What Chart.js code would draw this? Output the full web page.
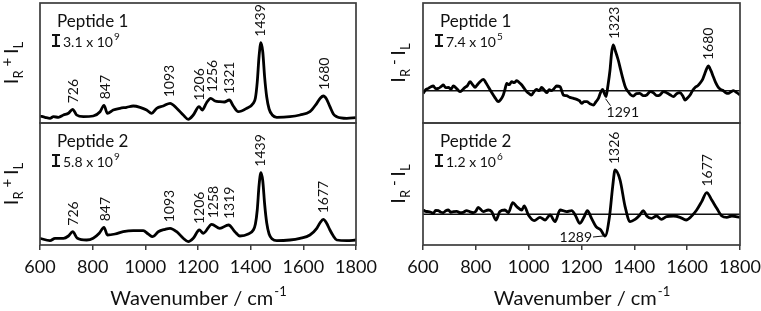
<!DOCTYPE html>
<html>
<head>
<meta charset="utf-8">
<script src="https://cdn.jsdelivr.net/npm/chart.js@4.4.0/dist/chart.umd.min.js"></script>
<style>
  body { margin: 0; background: #fff; }
  #wrap { position: relative; width: 761px; height: 311px; }
  #wrap canvas { position: absolute; left: 0; top: 0; }
</style>
</head>
<body>
<div id="wrap">
  <canvas id="ramanTop" width="761" height="311"></canvas>
  <canvas id="ramanBottom" width="761" height="311"></canvas>
  <canvas id="roaTop" width="761" height="311"></canvas>
  <canvas id="roaBottom" width="761" height="311"></canvas>
</div>
<script>
'use strict';

// x axis (wavenumber) ticks
const xTicks = [600, 800, 1000, 1200, 1400, 1600, 1800];

// Raman (I_R + I_L), peptide 1 - relative units
const ramanWn1 = [600, 619, 638, 651, 670, 689, 708, 724, 739, 765, 802, 828, 843, 856, 878, 904, 929, 954, 980, 1005,
  1024, 1043, 1068, 1094, 1119, 1144, 1163, 1182, 1204, 1216, 1232, 1248, 1265, 1283, 1300, 1319, 1334, 1353, 1385, 1410,
  1418, 1425, 1432, 1439, 1446, 1453, 1461, 1470, 1482, 1499, 1549, 1587, 1625, 1651, 1665, 1676, 1688, 1701, 1714, 1727,
  1765, 1800];
const ramanI1 = [7, 5.7, 4.7, 6.3, 5.7, 8, 9.7, 13.7, 8, 6.3, 7, 11.3, 17.7, 9.7, 13, 14.7, 15.7, 17, 15.7, 13,
  9.7, 14.7, 17, 19.7, 14.7, 8, 3.7, 8, 16.3, 13, 20, 24.7, 22, 21.3, 21, 23, 17, 11.3, 14.7, 19.7,
  25, 41, 67, 80.3, 71, 46, 26, 14, 8, 5.7, 6.3, 8, 11.3, 19.7, 25, 27, 24, 16.3, 9, 6.3,
  4.7, 5.3];

// Raman (I_R + I_L), peptide 2
const ramanWn2 = [600, 638, 657, 689, 708, 724, 742, 777, 802, 825, 843, 856, 885, 916, 954, 992, 1011, 1028, 1049, 1075,
  1094, 1119, 1144, 1163, 1182, 1205, 1220, 1252, 1283, 1316, 1340, 1359, 1391, 1410, 1418, 1425, 1432, 1439, 1446, 1453,
  1461, 1470, 1482, 1499, 1549, 1587, 1625, 1651, 1663, 1676, 1688, 1701, 1714, 1727, 1765, 1800];
const ramanI2 = [6.7, 4.3, 6.7, 6.7, 9, 13.3, 6.7, 5, 6.7, 11.7, 17.7, 10, 11, 13.3, 14.3, 14.3, 11, 8.3, 13.3, 15.7,
  16.7, 13.3, 6.7, 3.3, 6.7, 15, 11.7, 20.7, 16.7, 20, 13.3, 9, 11, 15, 21, 35, 60, 72.3, 64, 41,
  22, 11, 6, 4.3, 5, 6.7, 10, 16.7, 22, 25.7, 22, 15, 9, 5, 4.3, 5];

// ROA (I_R - I_L), peptide 1
const roaWn1 = [601, 610, 620, 630, 639, 648, 658, 668, 677, 686, 696, 706, 715, 728, 740, 750, 759, 768, 778, 788,
  797, 806, 816, 829, 838, 847, 856, 866, 875, 885, 894, 904, 910, 917, 926, 936, 945, 955, 965, 974,
  984, 993, 1002, 1011, 1020, 1030, 1040, 1049, 1058, 1068, 1078, 1087, 1096, 1106, 1119, 1125, 1131, 1143, 1156, 1168,
  1182, 1192, 1201, 1210, 1220, 1232, 1245, 1255, 1264, 1272, 1280, 1287, 1293, 1300, 1308, 1314, 1320, 1328, 1339, 1349,
  1358, 1367, 1377, 1386, 1396, 1408, 1421, 1434, 1447, 1460, 1472, 1485, 1497, 1510, 1522, 1535, 1548, 1560, 1573, 1583,
  1592, 1602, 1611, 1620, 1630, 1640, 1648, 1658, 1667, 1674, 1680, 1690, 1699, 1708, 1718, 1728, 1737, 1746, 1756, 1766,
  1775, 1788, 1800];
const roaI1 = [-2.7, 1, 2.3, 4, 4.7, 2, 2.3, 4, 5.7, 3, 3.3, 1.5, 4.7, 2, -1, 1, 3.3, 5, 9, 6,
  3.3, 6, 9, 11.3, 8, 4, 0, -4.3, -8, -11, -9, -4.3, 1, 7.3, 6, 9, 8, 10, 8, 5.7,
  2, -1, -3, -4.3, -1, 1.3, 0, 3.3, 1, -2, 1, 0, 2, 4.7, 4, 0, -4.3, -5, -6.7, -7.5,
  -8.7, -10, -12.7, -11, -11, -13, -14.3, -11, -7.7, -2, 1.3, -3, -6, 5, 20.7, 38, 45.7, 40, 30.7, 20,
  10.7, 3, -1, -4, -5.3, -3, -2.7, -5, -4.3, -1, -2, -5, -4.3, -1, -2, -4, -6, -3, -2, -5,
  -9.3, -7, -4.3, 0, 3.3, 5, 7.3, 11, 17.3, 22, 24.7, 20, 14, 8, 3.3, 1, 0, -2, -2.7, -1,
  0, -2, -4.3];

// ROA (I_R - I_L), peptide 2
const roaWn2 = [601, 610, 620, 630, 639, 648, 658, 668, 677, 686, 696, 705, 715, 728, 740, 752, 765, 778, 790, 800,
  809, 828, 847, 860, 876, 891, 910, 923, 940, 955, 974, 983, 999, 1021, 1043, 1062, 1081, 1100, 1119, 1144,
  1163, 1176, 1194, 1209, 1222, 1238, 1255, 1273, 1289, 1306, 1318, 1327, 1346, 1365, 1384, 1403, 1421, 1434, 1447, 1465,
  1484, 1503, 1522, 1548, 1573, 1596, 1617, 1636, 1655, 1674, 1693, 1712, 1731, 1750, 1769, 1800];
const roaI2 = [4.3, 3, 2.7, 2, 1, 4, 3.7, 2, 1.7, 3.5, 4.3, 2, 2.7, 3, 1.7, 2, 3.7, 2.5, 1.7, 3,
  7, 2.7, 4.3, 2.7, -5.7, 2.7, 4.3, 1.7, 11.7, 7.7, 4.3, 8.3, -0.7, -6.3, -3, -5.7, -0.7, -7.3, 4.3, 2.7,
  3.7, -0.7, -9, -3, 3.7, -4, -12.3, -15.7, -21.7, -2.3, 27.7, 44.3, 34.3, 7.7, -7.3, -5, -0.7, 3.7, -1.7, -4,
  -1.7, -5, -2.3, -1.7, -3, -5.7, -1.7, 4.3, 12.7, 21.7, 14.3, 6, -1.7, -3, -1.7, -3];

// peak labels
const ramanPeaks1 = [726, 847, 1093, 1206, 1256, 1321, 1439, 1680];
const ramanPeaks2 = [726, 847, 1093, 1206, 1258, 1319, 1439, 1677];
const roaPeaks1 = [1323, 1680];
const roaPeaks2 = [1326, 1677];

// panel texts
const panelNames = ['Peptide 1', 'Peptide 2'];
const ramanScales = [['3.1 x 10', '9'], ['5.8 x 10', '9']];
const roaScales = [['7.4 x 10', '5'], ['1.2 x 10', '6']];

const FONT = 'Lato, "Open Sans", sans-serif';
const INK = '#111';

function topNear(wn, vals, at) {
  let m = -Infinity;
  wn.forEach((w, i) => { if (Math.abs(w - at) <= 14 && vals[i] > m) m = vals[i]; });
  return m;
}
function lowNear(wn, vals, at) {
  let m = Infinity;
  wn.forEach((w, i) => { if (Math.abs(w - at) <= 8 && vals[i] < m) m = vals[i]; });
  return m;
}

// 装飾プラグイン（枠・ラベル類）
Chart.register({
  id: 'deco',
  beforeDatasetsDraw(chart, args, o) {
    if (!o.zero) return;
    const ctx = chart.ctx, a = chart.chartArea;
    const y0 = chart.scales.y.getPixelForValue(0);
    ctx.save();
    ctx.strokeStyle = INK;
    ctx.lineWidth = 1.4;
    ctx.beginPath();
    ctx.moveTo(a.left, y0);
    ctx.lineTo(a.right, y0);
    ctx.stroke();
    ctx.restore();
  },
  afterDatasetsDraw(chart, args, o) {
    const ctx = chart.ctx, a = chart.chartArea;
    const xs = chart.scales.x, ys = chart.scales.y;
    ctx.save();
    // frame
    ctx.strokeStyle = '#3c3c3c';
    ctx.lineWidth = 1.7;
    ctx.strokeRect(a.left, a.top, a.right - a.left, a.bottom - a.top);

    ctx.fillStyle = INK;
    ctx.strokeStyle = INK;

    // panel name
    ctx.font = '17px ' + FONT;
    ctx.textAlign = 'left';
    ctx.textBaseline = 'alphabetic';
    ctx.fillText(o.name, a.left + 17, a.top + 24);

    // intensity scale marker
    const bx = a.left + 16, bt = a.top + 32, bb = a.top + 43;
    ctx.lineWidth = 2.2;
    ctx.beginPath();
    ctx.moveTo(bx, bt); ctx.lineTo(bx, bb);
    ctx.moveTo(bx - 4, bt); ctx.lineTo(bx + 4, bt);
    ctx.moveTo(bx - 4, bb); ctx.lineTo(bx + 4, bb);
    ctx.stroke();
    ctx.font = '14px ' + FONT;
    ctx.fillText(o.scale[0], a.left + 23, a.top + 44);
    const sw = ctx.measureText(o.scale[0]).width;
    ctx.font = '10px ' + FONT;
    ctx.fillText(o.scale[1], a.left + 24 + sw, a.top + 37);

    // peak labels (rotated)
    ctx.font = '14px ' + FONT;
    o.peaks.forEach(p => {
      const px = xs.getPixelForValue(p);
      const py = ys.getPixelForValue(topNear(o.wn, o.vals, p)) - 6;
      ctx.save();
      ctx.translate(px, py);
      ctx.rotate(-Math.PI / 2);
      ctx.textAlign = 'left';
      ctx.textBaseline = 'middle';
      ctx.fillText(String(p), 0, 0);
      ctx.restore();
    });

    // negative band label with leader
    if (o.dip) {
      const px = xs.getPixelForValue(o.dip.wn);
      const py = ys.getPixelForValue(lowNear(o.wn, o.vals, o.dip.wn));
      ctx.lineWidth = 1;
      ctx.beginPath();
      ctx.textBaseline = 'middle';
      if (o.dip.side === 'below') {
        ctx.moveTo(px, py + 2); ctx.lineTo(px + 5, py + 9);
        ctx.stroke();
        ctx.textAlign = 'left';
        ctx.fillText(String(o.dip.wn), px + 1, py + 16);
      } else {
        ctx.moveTo(px - 2, py); ctx.lineTo(px - 12, py + 1);
        ctx.stroke();
        ctx.textAlign = 'right';
        ctx.fillText(String(o.dip.wn), px - 13, py + 1);
      }
    }

    // y title  I_R + I_L / I_R - I_L
    const parts = [['I', 20, 0], ['R', 13, 5], [o.op, 15, -6], ['I', 20, 0], ['L', 13, 5]];
    let total = 0;
    parts.forEach(pt => { ctx.font = pt[1] + 'px ' + FONT; total += ctx.measureText(pt[0]).width; });
    ctx.save();
    ctx.translate(o.titleX, (a.top + a.bottom) / 2);
    ctx.rotate(-Math.PI / 2);
    ctx.textAlign = 'left';
    ctx.textBaseline = 'alphabetic';
    let cx = -total / 2;
    parts.forEach(pt => {
      ctx.font = pt[1] + 'px ' + FONT;
      ctx.fillText(pt[0], cx, pt[2]);
      cx += ctx.measureText(pt[0]).width;
    });
    ctx.restore();

    // x title
    if (o.axis) {
      ctx.textAlign = 'left';
      ctx.textBaseline = 'alphabetic';
      ctx.font = '20px ' + FONT;
      const t1 = 'Wavenumber / cm', t2 = '-1';
      const w1 = ctx.measureText(t1).width;
      ctx.font = '13px ' + FONT;
      const w2 = ctx.measureText(t2).width;
      const sx = (a.left + a.right) / 2 - (w1 + w2) / 2;
      ctx.font = '20px ' + FONT;
      ctx.fillText(t1, sx, 305);
      ctx.font = '13px ' + FONT;
      ctx.fillText(t2, sx + w1 + 1, 296);
    }
    ctx.restore();
  }
});

function makePanel(id, box, wn, vals, yRange, deco) {
  const axis = deco.axis;
  const axisH = 40;
  return new Chart(document.getElementById(id), {
    type: 'line',
    data: {
      datasets: [{
        data: wn.map((w, i) => ({ x: w, y: vals[i] })),
        borderColor: '#000',
        borderWidth: 2.8,
        pointRadius: 0,
        cubicInterpolationMode: 'monotone',
        fill: false
      }]
    },
    options: {
      responsive: false,
      animation: false,
      events: [],
      layout: {
        padding: {
          left: box[0], top: box[1], right: 761 - box[2],
          bottom: axis ? 311 - box[3] - axisH : 311 - box[3]
        }
      },
      scales: {
        x: {
          type: 'linear',
          min: 600,
          max: 1800,
          display: axis,
          afterBuildTicks: s => { s.ticks = xTicks.map(v => ({ value: v })); },
          afterFit: s => { if (axis) { s.height = axisH; s.paddingLeft = 0; s.paddingRight = 0; } },
          border: { display: false },
          grid: { drawOnChartArea: false, drawTicks: true, tickLength: 5, color: '#3c3c3c', lineWidth: 1.5 },
          ticks: { color: INK, font: { family: FONT, size: 18 }, padding: 6, maxRotation: 0,
            callback: v => String(v) }
        },
        y: { min: yRange[0], max: yRange[1], display: false }
      },
      plugins: {
        legend: { display: false },
        tooltip: { enabled: false },
        deco: deco
      }
    }
  });
}

makePanel('ramanTop', [40, 3, 356, 123], ramanWn1, ramanI1, [0, 120],
  { name: panelNames[0], scale: ramanScales[0], wn: ramanWn1, vals: ramanI1, peaks: ramanPeaks1, op: ' + ', titleX: 18, axis: false });
makePanel('ramanBottom', [40, 123, 356, 245], ramanWn2, ramanI2, [0, 122],
  { name: panelNames[1], scale: ramanScales[1], wn: ramanWn2, vals: ramanI2, peaks: ramanPeaks2, op: ' + ', titleX: 18, axis: true });
makePanel('roaTop', [423, 3, 740, 123], roaWn1, roaI1, [-32.3, 87.7],
  { name: panelNames[0], scale: roaScales[0], wn: roaWn1, vals: roaI1, peaks: roaPeaks1, op: ' - ', titleX: 405, axis: false, zero: true,
    dip: { wn: 1291, side: 'below' } });
makePanel('roaBottom', [423, 123, 740, 245], roaWn2, roaI2, [-30.7, 91.3],
  { name: panelNames[1], scale: roaScales[1], wn: roaWn2, vals: roaI2, peaks: roaPeaks2, op: ' - ', titleX: 405, axis: true, zero: true,
    dip: { wn: 1289, side: 'left' } });
</script>
</body>
</html>
